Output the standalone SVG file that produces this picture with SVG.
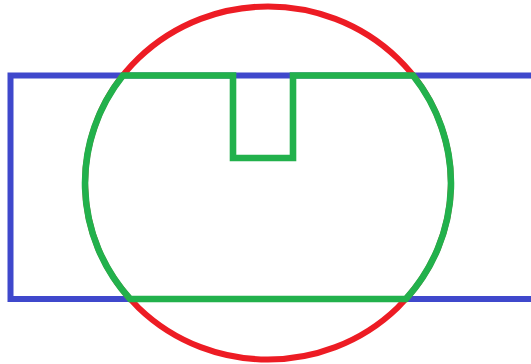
<svg xmlns="http://www.w3.org/2000/svg" width="531" height="364" viewBox="0 0 531 364">
  <style>
    .s { fill: none; stroke-width: 6; }
    .blue { stroke: #3F48CC; }
    .red { stroke: #ED1C24; }
    .green { stroke: #22B14C; stroke-width: 6.6; stroke-linejoin: miter; }
  </style>
  <rect width="531" height="364" fill="#FFFFFF"/>
  <g id="rectangle">
    <path class="s blue" d="M540,75.5 H10.5 V299 H540"/>
  </g>
  <g id="circle">
    <ellipse class="s red" cx="268" cy="183" rx="183" ry="176.5"/>
  </g>
  <g id="intersection">
    <path class="s green" d="M122.9,75.5 H233 V158 H293 V75.5 H413.1 A183,176.5 0 0 1 405.9,299 H130.1 A183,176.5 0 0 1 122.9,75.5 Z"/>
  </g>
</svg>
